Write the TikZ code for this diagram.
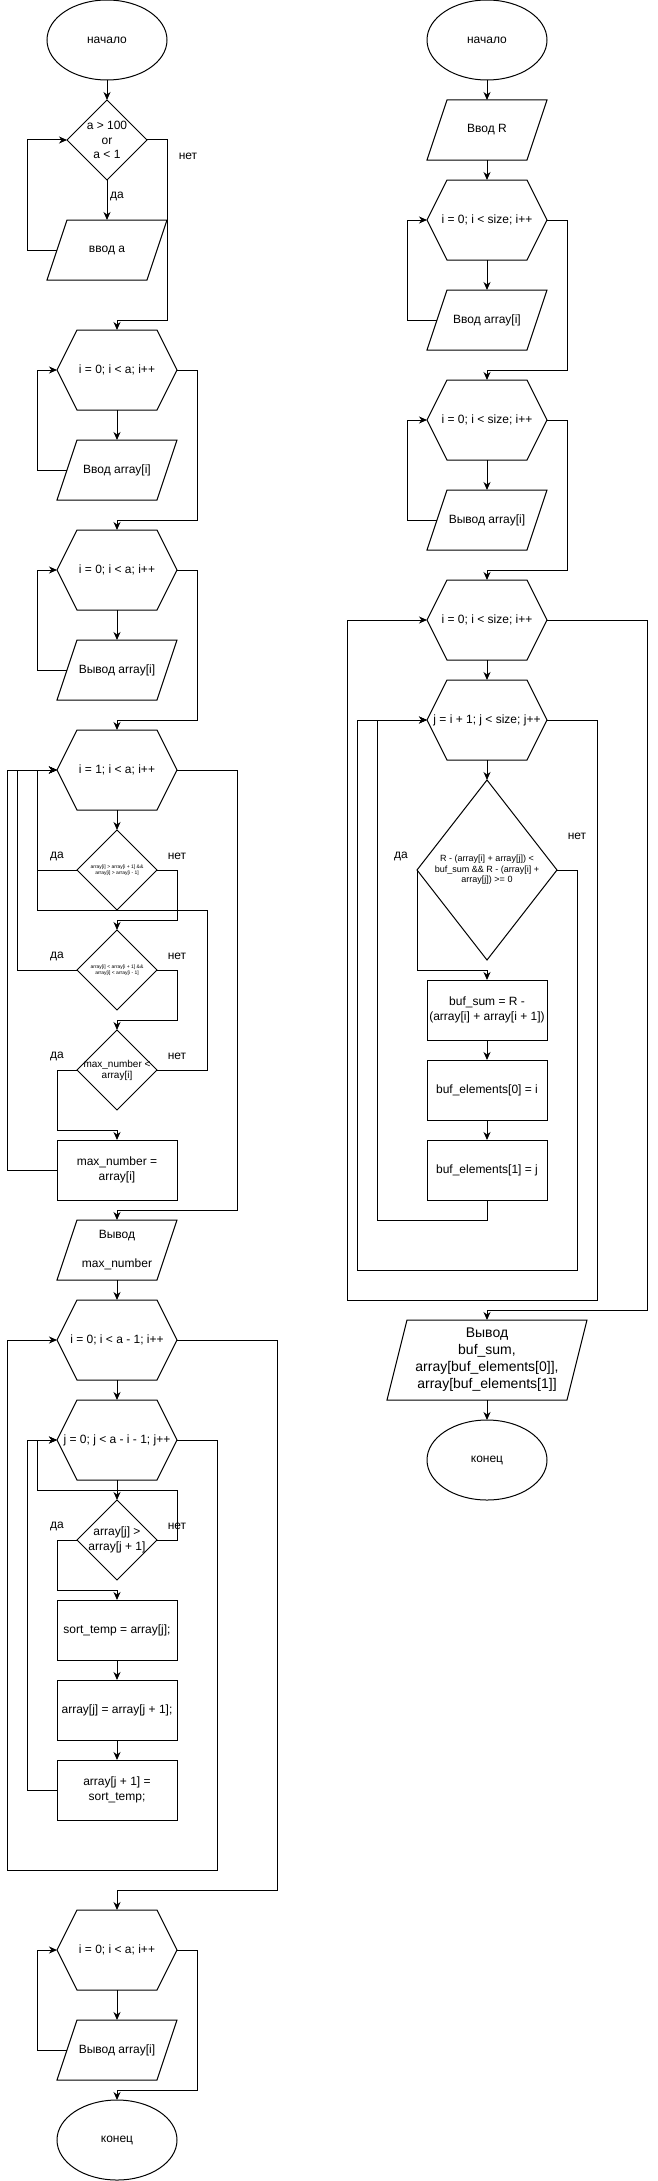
\documentclass[tikz,border=0pt]{standalone}
\usepackage{fontspec}
\setmainfont{Liberation Sans}
\usepackage{tikz}
\usetikzlibrary{
  positioning,
  arrows.meta,
  shapes.geometric
}
\tikzset{
  base/.style={
    font=\fontsize{12}{14.5}\selectfont,
    align=center,
    inner sep=0pt,
    outer sep=0pt,
    line width=1pt,
  },
  term/.style={
    base,
    ellipse,
    draw,
    minimum width=120pt,
    minimum height=80pt,
  },
  proc/.style={
    base,
    draw,
    minimum width=120pt,
    minimum height=60pt,
  },
  cond/.style={
    base,
    diamond,
    draw,
    minimum width=80pt,
    minimum height=80pt,
  },
  looptop/.style={
    base,
    minimum width=120pt,
    minimum height=80pt,
    append after command={\pgfextra{\draw[line width=1pt]
      (\tikzlastnode.west) -- ([xshift=20pt]\tikzlastnode.north west)
      -- ([xshift=-20pt]\tikzlastnode.north east) -- (\tikzlastnode.east)
      -- ([xshift=-20pt]\tikzlastnode.south east)
      -- ([xshift=20pt]\tikzlastnode.south west) -- cycle;}},
  },
  io/.style={
    base,
    minimum width=120pt,
    minimum height=60pt,
    append after command={\pgfextra{\draw[line width=1pt]
      ([xshift=20pt]\tikzlastnode.north west) -- (\tikzlastnode.north east)
      -- ([xshift=-20pt]\tikzlastnode.south east)
      -- (\tikzlastnode.south west) -- cycle;}},
  },
  flow/.style={
    ->,
    >={Stealth[length=8pt,width=7pt,inset=2.5pt]},
    line width=1pt,
  },
  answer/.style={
    font=\fontsize{12}{14}\selectfont,
    inner sep=0pt,
  },
}

\begin{document}
\begin{tikzpicture}[x=1pt, y=-1pt, node distance=20pt]
  \useasboundingbox (0,0) rectangle (657,2181);

  % left chart: nodes
  \node[term] (start1) at (107,40) {начало};
  \node[cond, below=of start1, label={[base]center:{a > 100\\or\\a < 1}}] (chkA) {};
  \node[io, below=40pt of chkA] (readA) {ввод а};
  \node[looptop, below=50pt of readA, xshift=10pt] (forIn) {i = 0; i < a; i++};
  \node[io, below=30pt of forIn] (readArr) {Ввод array[i]};
  \node[looptop, below=30pt of readArr] (forOut) {i = 0; i < a; i++};
  \node[io, below=30pt of forOut] (printArr) {Вывод array[i]};
  \node[looptop, below=30pt of printArr] (forMax) {i = 1; i < a; i++};
  \node[cond, below=of forMax,
    label={[base, font=\fontsize{5}{6.3}\selectfont]center:{array[i] > array[i + 1] \&\&\\array[i] > array[i - 1]}}] (chkPeak) {};
  \node[cond, below=of chkPeak,
    label={[base, font=\fontsize{5}{6.3}\selectfont]center:{array[i] < array[i + 1] \&\&\\array[i] < array[i - 1]}}] (chkPit) {};
  \node[cond, below=of chkPit,
    label={[base, font=\fontsize{10}{11}\selectfont]center:{max\_number <\\array[i]}}] (chkMax) {};
  \node[proc, below=30pt of chkMax] (setMax) {max\_number =\\array[i]};
  \node[io, below=of setMax] (printMax) {Вывод\\[15pt]max\_number};
  \node[looptop, below=of printMax] (forI) {i = 0; i < a - 1; i++};
  \node[looptop, below=of forI] (forJ) {j = 0; j < a - i - 1; j++};
  \node[cond, below=of forJ, label={[base]center:{array[j] >\\array[j + 1]}}] (chkSwap) {};
  \node[proc, below=of chkSwap] (swap1) {sort\_temp = array[j];};
  \node[proc, below=of swap1] (swap2) {array[j] = array[j + 1];};
  \node[proc, below=of swap2] (swap3) {array[j + 1] =\\sort\_temp;};
  \node[looptop, below=90pt of swap3] (forSorted) {i = 0; i < a; i++};
  \node[io, below=30pt of forSorted] (printSorted) {Вывод array[i]};
  \node[term, below=of printSorted] (end1) {конец};

  % left chart: answers
  \node[answer] (noA) at ([shift={(41,16)}]chkA.east) {нет};
  \node[answer] (yesA) at ([shift={(10,16)}]chkA.south) {да};
  \node[answer] (yesPeak) at ([shift={(-20,-14)}]chkPeak.west) {да};
  \node[answer] (noPeak) at ([shift={(20,-14)}]chkPeak.east) {нет};
  \node[answer] (yesPit) at ([shift={(-20,-14)}]chkPit.west) {да};
  \node[answer] (noPit) at ([shift={(20,-14)}]chkPit.east) {нет};
  \node[answer] (yesMax) at ([shift={(-20,-14)}]chkMax.west) {да};
  \node[answer] (noMax) at ([shift={(20,-14)}]chkMax.east) {нет};
  \node[answer] (yesSwap) at ([shift={(-20,-14)}]chkSwap.west) {да};
  \node[answer] (noSwap) at ([shift={(20,-14)}]chkSwap.east) {нет};

  % left chart: edges
  \draw[flow] (start1) -- (chkA);
  \draw[flow] (chkA) -- (readA);
  \draw[flow] (chkA.east) -- ++(20,0) |- ([yshift=10pt]forIn.north) -- (forIn.north);
  \draw[flow] ([xshift=10pt]readA.west) -- ++(-30,0) |- (chkA.west);
  \draw[flow] (forIn) -- (readArr);
  \draw[flow] ([xshift=10pt]readArr.west) -- ++(-30,0) |- (forIn.west);
  \draw[flow] (forIn.east) -- ++(20,0) |- ([yshift=10pt]forOut.north) -- (forOut.north);
  \draw[flow] (forOut) -- (printArr);
  \draw[flow] ([xshift=10pt]printArr.west) -- ++(-30,0) |- (forOut.west);
  \draw[flow] (forOut.east) -- ++(20,0) |- ([yshift=10pt]forMax.north) -- (forMax.north);
  \draw[flow] (forMax) -- (chkPeak);
  \draw[flow] (chkPeak.west) -- ++(-40,0) |- (forMax.west);
  \draw[flow] (chkPeak.east) -- ++(20,0) |- ([yshift=10pt]chkPit.north) -- (chkPit.north);
  \draw[flow] (chkPit.west) -- ++(-60,0) |- (forMax.west);
  \draw[flow] (chkPit.east) -- ++(20,0) |- ([yshift=10pt]chkMax.north) -- (chkMax.north);
  \draw[flow] (chkMax.west) -- ++(-20,0) |- ([yshift=10pt]setMax.north) -- (setMax.north);
  \draw[flow] (chkMax.east) -- ++(50,0) |- ([xshift=-20pt]chkPeak.south -| forMax.west) |- (forMax.west);
  \draw[flow] (setMax.west) -- ++(-50,0) |- (forMax.west);
  \draw[flow] (forMax.east) -- ++(60,0) |- ([yshift=10pt]printMax.north) -- (printMax.north);
  \draw[flow] (printMax) -- (forI);
  \draw[flow] (forI) -- (forJ);
  \draw[flow] (forJ) -- (chkSwap);
  \draw[flow] (chkSwap.east) -- ++(20,0) |- ([shift={(-80,-10)}]chkSwap.north) |- (forJ.west);
  \draw[flow] (chkSwap.west) -- ++(-20,0) |- ([yshift=10pt]swap1.north) -- (swap1.north);
  \draw[flow] (swap1) -- (swap2);
  \draw[flow] (swap2) -- (swap3);
  \draw[flow] (swap3.west) -- ++(-30,0) |- (forJ.west);
  \draw[flow] (forJ.east) -- ++(40,0) -- ++(0,430) -- ++(-210,0) |- (forI.west);
  \draw[flow] (forI.east) -- ++(100,0) |- ([yshift=20pt]forSorted.north) -- (forSorted.north);
  \draw[flow] (forSorted) -- (printSorted);
  \draw[flow] ([xshift=10pt]printSorted.west) -- ++(-30,0) |- (forSorted.west);
  \draw[flow] (forSorted.east) -- ++(20,0) |- ([yshift=10pt]end1.north) -- (end1.north);

  % right chart: nodes
  \node[term] (start2) at (487,40) {начало};
  \node[io, below=of start2] (readR) {Ввод R};
  \node[looptop, below=of readR] (forIn2) {i = 0; i < size; i++};
  \node[io, below=30pt of forIn2] (readArr2) {Ввод array[i]};
  \node[looptop, below=30pt of readArr2] (forOut2) {i = 0; i < size; i++};
  \node[io, below=30pt of forOut2] (printArr2) {Вывод array[i]};
  \node[looptop, below=30pt of printArr2] (forPairI) {i = 0; i < size; i++};
  \node[looptop, below=of forPairI] (forPairJ) {j = i + 1; j < size; j++};
  \node[cond, minimum width=140pt, minimum height=180pt, below=of forPairJ,
    label={[base, font=\fontsize{9}{10.5}\selectfont]center:{R - (array[i] + array[j]) <\\buf\_sum \&\& R - (array[i] +\\array[j]) >= 0}}] (chkBest) {};
  \node[proc, below=of chkBest] (setSum) {buf\_sum = R -\\(array[i] + array[i + 1])};
  \node[proc, below=of setSum] (setFirst) {buf\_elements[0] = i};
  \node[proc, below=of setFirst] (setSecond) {buf\_elements[1] = j};
  \node[io, minimum width=200pt, minimum height=80pt, below=120pt of setSecond,
    font=\fontsize{14}{17}\selectfont] (printBest) {Вывод\\buf\_sum,\\array[buf\_elements[0]],\\array[buf\_elements[1]]};
  \node[term, below=of printBest] (end2) {конец};

  % right chart: answers
  \node[answer] (yesBest) at ([shift={(-16,-14)}]chkBest.west) {да};
  \node[answer] (noBest) at ([shift={(20,-34)}]chkBest.east) {нет};

  % right chart: edges
  \draw[flow] (start2) -- (readR);
  \draw[flow] (readR) -- (forIn2);
  \draw[flow] (forIn2) -- (readArr2);
  \draw[flow] ([xshift=10pt]readArr2.west) -- ++(-30,0) |- (forIn2.west);
  \draw[flow] (forIn2.east) -- ++(20,0) |- ([yshift=10pt]forOut2.north) -- (forOut2.north);
  \draw[flow] (forOut2) -- (printArr2);
  \draw[flow] ([xshift=10pt]printArr2.west) -- ++(-30,0) |- (forOut2.west);
  \draw[flow] (forOut2.east) -- ++(20,0) |- ([yshift=10pt]forPairI.north) -- (forPairI.north);
  \draw[flow] (forPairI) -- (forPairJ);
  \draw[flow] (forPairJ) -- (chkBest);
  \draw[flow] (chkBest.west) |- ([yshift=10pt]setSum.north) -- (setSum.north);
  \draw[flow] (chkBest.east) -- ++(20,0) -- ++(0,400) -| ([xshift=-70pt]forPairJ.west) -- (forPairJ.west);
  \draw[flow] (setSum) -- (setFirst);
  \draw[flow] (setFirst) -- (setSecond);
  \draw[flow] (setSecond.south) -- ++(0,20) -| ([xshift=-50pt]forPairJ.west) -- (forPairJ.west);
  \draw[flow] (forPairJ.east) -- ++(50,0) -- ++(0,580) -| ([xshift=-80pt]forPairI.west) -- (forPairI.west);
  \draw[flow] (forPairI.east) -- ++(100,0) |- ([yshift=10pt]printBest.north) -- (printBest.north);
  \draw[flow] (printBest) -- (end2);
\end{tikzpicture}
\end{document}
